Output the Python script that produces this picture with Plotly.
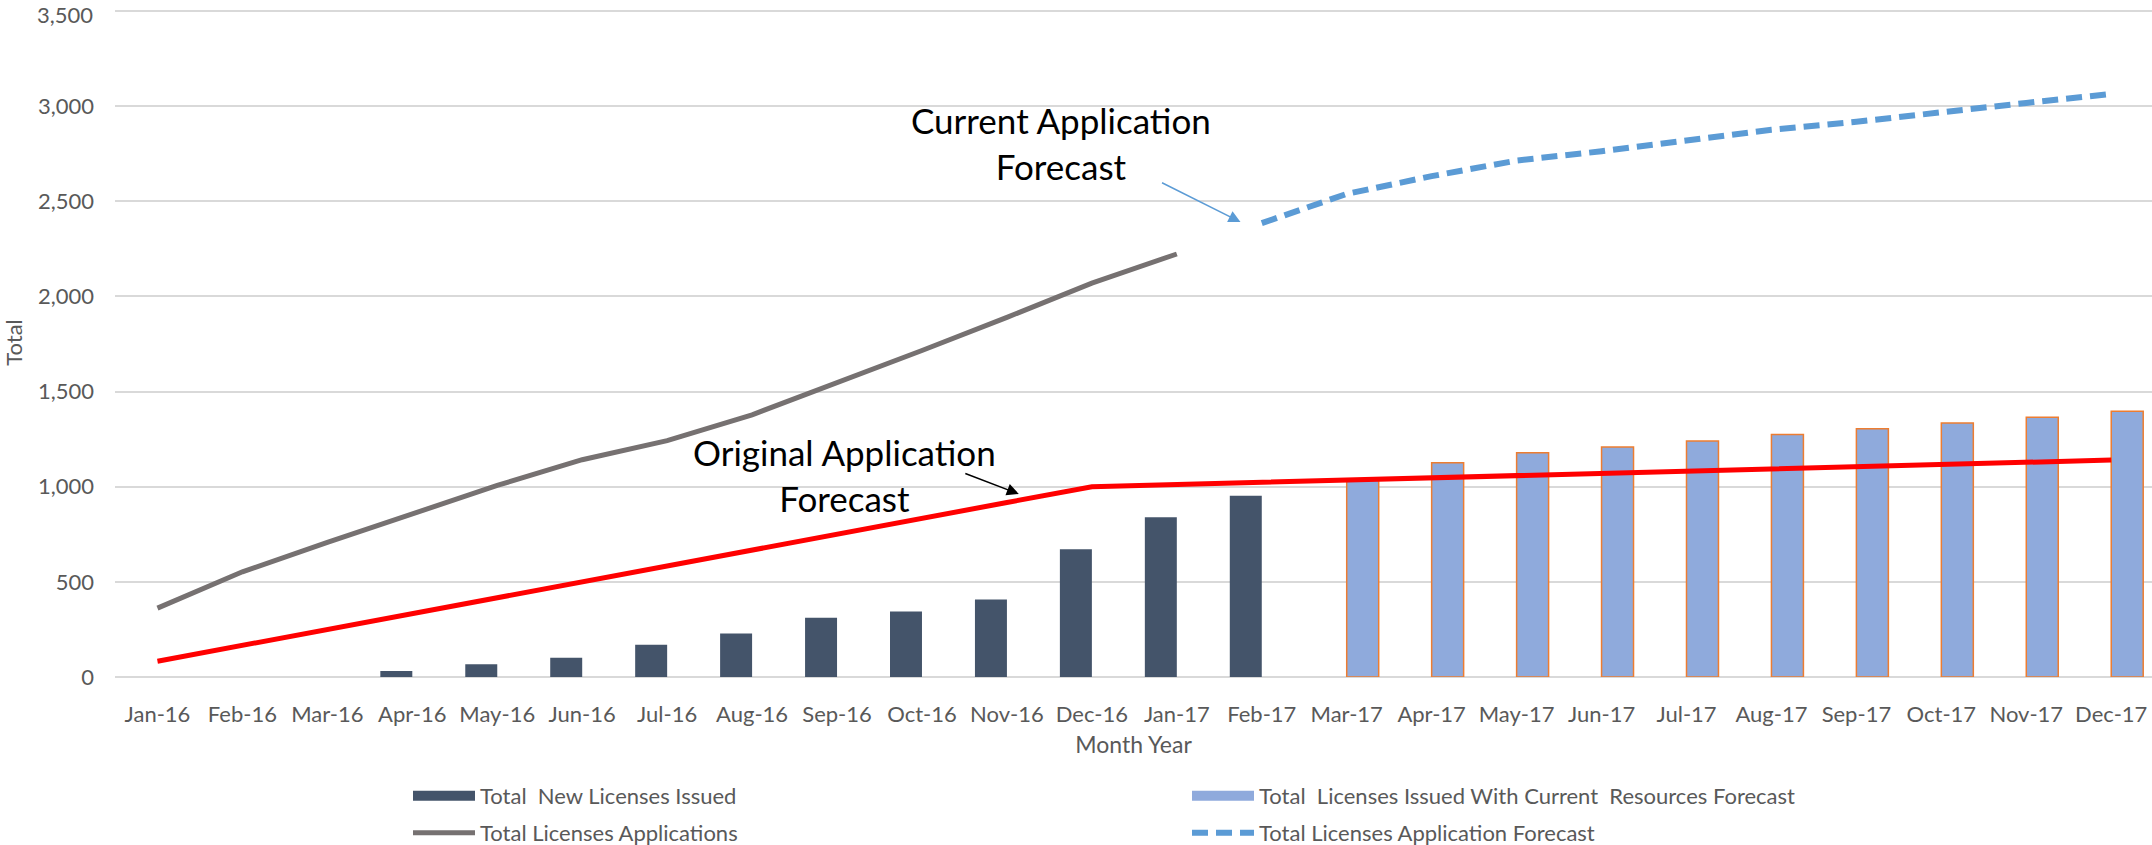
import plotly.graph_objects as go

months = ["Jan-16", "Feb-16", "Mar-16", "Apr-16", "May-16", "Jun-16", "Jul-16", "Aug-16",
          "Sep-16", "Oct-16", "Nov-16", "Dec-16", "Jan-17", "Feb-17", "Mar-17", "Apr-17",
          "May-17", "Jun-17", "Jul-17", "Aug-17", "Sep-17", "Oct-17", "Nov-17", "Dec-17"]

new_licenses_issued = [None, None, None, 32, 67, 101, 170, 228, 312, 344, 407, 672, 839, 953,
                       None, None, None, None, None, None, None, None, None, None]

issued_forecast = [None, None, None, None, None, None, None, None, None, None, None, None, None, None,
                   1035, 1126, 1179, 1209, 1240, 1274, 1305, 1335, 1365, 1396]

applications = [362, 553, 707, 860, 1007, 1142, 1242, 1378, 1544, 1716, 1890, 2070, 2223,
                None, None, None, None, None, None, None, None, None, None, None]

application_forecast = [None, None, None, None, None, None, None, None, None, None, None, None, None,
                        2385, 2539, 2632, 2714, 2763, 2819, 2876, 2918, 2964, 3017, 3064]

original_forecast = [83, 167, 250, 333, 417, 500, 583, 667, 750, 833, 917, 1000,
                     1012, 1023, 1035, 1047, 1058, 1070, 1082, 1093, 1105, 1117, 1128, 1140]

y_max = 3500
y_step = 500

FONT = "Lato"
TXT = "#595959"
NAME_ISSUED = "Total\u00a0 New Licenses Issued"
NAME_ISSUED_FC = "Total\u00a0 Licenses Issued With Current\u00a0 Resources Forecast"

fig = go.Figure()

fig.add_trace(go.Bar(
    x=months, y=new_licenses_issued, name=NAME_ISSUED,
    marker=dict(color="#44546A", line=dict(width=0)),
    showlegend=False, hoverinfo="skip",
))
fig.add_trace(go.Bar(
    x=months, y=issued_forecast, name=NAME_ISSUED_FC,
    marker=dict(color="#8FAADC", line=dict(color="#ED7D31", width=1.5)),
    showlegend=False, hoverinfo="skip",
))
fig.add_trace(go.Scatter(
    x=months, y=applications, mode="lines",
    name="Total Licenses Applications",
    line=dict(color="#767171", width=5),
    legend="legend2", hoverinfo="skip",
))
fig.add_trace(go.Scatter(
    x=months, y=application_forecast, mode="lines",
    name="Total Licenses Application Forecast",
    line=dict(color="#5B9BD5", width=6, dash="16px,8px"),
    legend="legend2", hoverinfo="skip",
))
fig.add_trace(go.Scatter(
    x=months, y=original_forecast, mode="lines",
    name="Original Application Forecast",
    line=dict(color="#FF0000", width=5),
    showlegend=False, hoverinfo="skip",
))

# Legend-only entries giving the bar series a wide block symbol
fig.add_trace(go.Scatter(
    x=[None], y=[None], mode="lines", name=NAME_ISSUED,
    line=dict(color="#44546A", width=20), legend="legend", hoverinfo="skip",
))
fig.add_trace(go.Scatter(
    x=[None], y=[None], mode="lines", name=NAME_ISSUED_FC,
    line=dict(color="#8FAADC", width=20), legend="legend", hoverinfo="skip",
))

# Top tick label (plotly drops the label sitting on the very top edge)
fig.add_annotation(x=0, y=y_max, xref="paper", yref="y", text=f"{y_max:,}",
                   showarrow=False, xanchor="right", yanchor="middle",
                   xshift=-21, yshift=-3, borderpad=0,
                   font=dict(family=FONT, size=22, color=TXT))

# Text callouts
fig.add_annotation(x=10.64, y=2804, xref="x", yref="y",
                   text="Current Application<br>Forecast", showarrow=False,
                   font=dict(family=FONT, size=35, color="#000000"), align="center")
fig.add_annotation(x=12.75, y=2391, xref="x", yref="y", text="",
                   showarrow=True, ax=-80, ay=-40, arrowcolor="#5B9BD5",
                   arrowwidth=1.5, arrowhead=2, arrowsize=1.6)
fig.add_annotation(x=8.09, y=1061, xref="x", yref="y",
                   text="Original Application<br>Forecast", showarrow=False,
                   font=dict(family=FONT, size=35, color="#000000"), align="center")
fig.add_annotation(x=10.14, y=962, xref="x", yref="y", text="",
                   showarrow=True, ax=-55, ay=-21, arrowcolor="#000000",
                   arrowwidth=1.5, arrowhead=2, arrowsize=1.6)

legend_common = dict(
    orientation="h", xref="container", yref="container",
    xanchor="left", yanchor="middle",
    entrywidth=702, entrywidthmode="pixels", itemwidth=62,
    font=dict(family=FONT, size=22, color=TXT),
    traceorder="normal", bgcolor="rgba(0,0,0,0)",
)

fig.update_layout(
    width=2152, height=845,
    margin=dict(l=115, r=0, t=8, b=168, autoexpand=False),
    paper_bgcolor="white", plot_bgcolor="white",
    barmode="group", bargap=0.247, bargroupgap=0,
    font=dict(family=FONT, color=TXT, size=22),
    showlegend=True,
    legend=dict(legend_common, x=408 / 2152, y=1 - 796 / 845),
    legend2=dict(legend_common, x=408 / 2152, y=1 - 833 / 845),
    hovermode=False,
)

fig.update_xaxes(
    type="category", range=[-0.5, 23.48],
    showgrid=False, showline=False, zeroline=False, ticks="",
    tickfont=dict(family=FONT, size=22, color=TXT),
    ticklabelstandoff=22,
    title=dict(text="Month Year", font=dict(family=FONT, size=23, color=TXT), standoff=10),
)
fig.update_yaxes(
    range=[0, 3515.8], tickmode="linear", tick0=0, dtick=y_step, tickformat=",",
    showgrid=True, gridcolor="#D9D9D9", gridwidth=1.5,
    zeroline=True, zerolinecolor="#D9D9D9", zerolinewidth=1.5,
    showline=False, ticks="",
    tickfont=dict(family=FONT, size=22, color=TXT),
    ticklabelstandoff=20,
    title=dict(text="Total", font=dict(family=FONT, size=22, color=TXT), standoff=12),
)

fig.write_html(
    "out.html",
    config={"displayModeBar": False},
    post_script="document.body.style.margin='0';document.body.style.overflow='hidden';",
)
